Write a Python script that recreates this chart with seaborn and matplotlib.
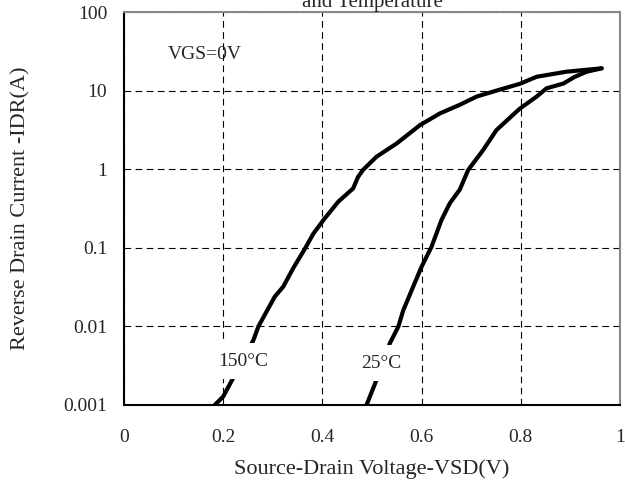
import matplotlib
matplotlib.use("Agg")
import matplotlib.pyplot as plt
import seaborn as sns
import pandas as pd
from matplotlib.ticker import FixedLocator, FixedFormatter

# ---- data ----
vsd_150 = [0.183, 0.200, 0.261, 0.271, 0.304, 0.321, 0.341, 0.365, 0.382, 0.402,
           0.432, 0.462, 0.472, 0.482, 0.509, 0.550, 0.597, 0.637, 0.677, 0.711,
           0.751, 0.798, 0.832, 0.892, 0.963]
idr_150 = [0.001, 0.00128, 0.0067, 0.010, 0.0239, 0.032, 0.0548, 0.098, 0.152, 0.225,
           0.386, 0.57, 0.80, 0.98, 1.44, 2.13, 3.65, 5.13, 6.6, 8.4,
           10.0, 12.2, 15.0, 17.4, 19.2]

vsd_25 = [0.489, 0.509, 0.536, 0.553, 0.563, 0.583, 0.600, 0.620, 0.640, 0.657,
          0.677, 0.694, 0.724, 0.751, 0.798, 0.832, 0.852, 0.886, 0.909, 0.933, 0.963]
idr_25 = [0.001, 0.00208, 0.0061, 0.0099, 0.016, 0.032, 0.0575, 0.103, 0.225, 0.37,
          0.55, 0.98, 1.75, 3.15, 5.9, 8.4, 10.7, 12.3, 15.0, 17.4, 19.2]

x_ticks = [0, 0.2, 0.4, 0.6, 0.8, 1]
x_tick_labels = ["0", "0.2", "0.4", "0.6", "0.8", "1"]
y_ticks = [0.001, 0.01, 0.1, 1, 10, 100]
y_tick_labels = ["0.001", "0.01", "0.1", "1", "10", "100"]

title_text = "and Temperature"
x_label = "Source-Drain Voltage-VSD(V)"
y_label = "Reverse Drain Current -IDR(A)"
note_text = "VGS=0V"
label_150 = "150°C"
label_25 = "25°C"

# ---- style ----
sns.set_style("white")
plt.rcParams["font.family"] = ["Liberation Serif", "DejaVu Serif"]

fig = plt.figure(figsize=(6.25, 4.88), dpi=100)
ax = fig.add_axes([0.1984, 0.1701, 0.7936, 0.8053])

df150 = pd.DataFrame({"VSD": vsd_150, "IDR": idr_150})
df25 = pd.DataFrame({"VSD": vsd_25, "IDR": idr_25})

sns.lineplot(data=df150, x="VSD", y="IDR", ax=ax, color="black", linewidth=3,
             estimator=None, sort=False, zorder=3)
sns.lineplot(data=df25, x="VSD", y="IDR", ax=ax, color="black", linewidth=3,
             estimator=None, sort=False, zorder=3)

ax.set_yscale("log")
ax.set_xlim(0, 1)
ax.set_ylim(0.001, 100)

ax.xaxis.set_major_locator(FixedLocator(x_ticks))
ax.xaxis.set_major_formatter(FixedFormatter(x_tick_labels))
ax.yaxis.set_major_locator(FixedLocator(y_ticks))
ax.yaxis.set_major_formatter(FixedFormatter(y_tick_labels))
ax.yaxis.set_minor_locator(FixedLocator([]))

ax.tick_params(axis="x", length=0, pad=17, labelsize=14)
ax.tick_params(axis="y", length=0, pad=12, labelsize=14)

ax.grid(True, which="major", color="black", linestyle=(0, (6, 4)), linewidth=0.8)
ax.set_axisbelow(True)

for side in ["left", "bottom"]:
    ax.spines[side].set_color("black")
    ax.spines[side].set_linewidth(1.5)
for side in ["top", "right"]:
    ax.spines[side].set_color("#888888")
    ax.spines[side].set_linewidth(1.5)

ax.set_xlabel(x_label, fontsize=16, labelpad=10)
ax.set_ylabel(y_label, fontsize=16, labelpad=24)

ax.text(0.089, 28.4, note_text, fontsize=14, ha="left", va="center", zorder=5)

box = dict(boxstyle="square,pad=0.5", facecolor="white", edgecolor="none")
ax.text(0.24, 0.0036, label_150, fontsize=14, ha="center", va="center",
        bbox=box, zorder=5)
ax.text(0.518, 0.0034, label_25, fontsize=14, ha="center", va="center",
        bbox=box, zorder=5)

fig.text(0.5952, 1 - 7 / 488, title_text, fontsize=15, ha="center", va="baseline")

fig.savefig("out.png", dpi=100)
